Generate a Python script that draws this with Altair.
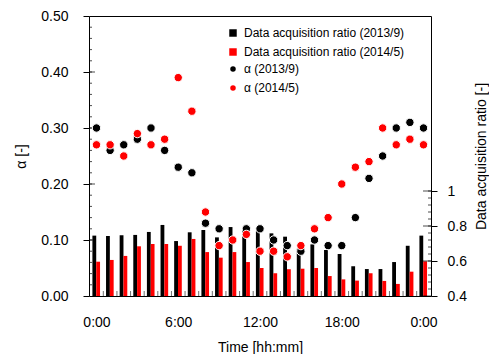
import altair as alt
import pandas as pd

hours = list(range(25))
ratio_2013 = [0.745, 0.743, 0.747, 0.749, 0.766, 0.806, 0.714, 0.764, 0.777, 0.735,
              0.794, 0.780, 0.770, 0.758, 0.739, 0.670, 0.695, 0.663, 0.640, 0.570,
              0.554, 0.554, 0.594, 0.687, 0.745]
ratio_2014 = [0.596, 0.606, 0.629, 0.684, 0.697, 0.697, 0.687, 0.726, 0.651, 0.619,
              0.651, 0.594, 0.560, 0.530, 0.553, 0.556, 0.560, 0.514, 0.495, 0.488,
              0.530, 0.486, 0.469, 0.539, 0.598]
alpha_2013 = [0.30, 0.26, 0.27, 0.28, 0.30, 0.26, 0.23, 0.22, 0.13, 0.12,
              None, 0.12, 0.12, 0.10, 0.09, 0.08, 0.10, 0.09, 0.09, 0.14,
              0.21, 0.25, 0.30, 0.31, 0.30]
alpha_2014 = [0.27, 0.27, 0.25, 0.29, 0.27, 0.28, 0.39, 0.33, 0.15, 0.09,
              0.10, 0.11, 0.08, 0.08, 0.07, 0.09, 0.12, 0.14, 0.20, 0.23,
              0.24, 0.30, 0.27, 0.28, 0.27]

x_ticks = [0, 6, 12, 18, 24]
x_tick_labels = ["0:00", "6:00", "12:00", "18:00", "0:00"]
alpha_ticks = [0.0, 0.1, 0.2, 0.3, 0.4, 0.5]
ratio_ticks = [0.4, 0.6, 0.8, 1.0]
x_minor = [h + 0.5 for h in range(24)]
alpha_minor = [round(0.02 * i, 2) for i in range(1, 25)]
alpha_major_inner = [0.1, 0.2, 0.3, 0.4]
ratio_minor = [round(0.4 + 0.04 * i, 2) for i in range(1, 16)]

S1 = "Data acquisition ratio (2013/9)"
S2 = "Data acquisition ratio (2014/5)"
A1 = "α (2013/9)"
A2 = "α (2014/5)"

W, H = 342, 280
FONT = "Liberation Sans"

bars_df = pd.DataFrame({
    "hour": hours * 2,
    "bseries": [S1] * 25 + [S2] * 25,
    "ratio": ratio_2013 + ratio_2014,
})
pts_df = pd.DataFrame({
    "hour": hours * 2,
    "aseries": [A1] * 25 + [A2] * 25,
    "alpha": alpha_2013 + alpha_2014,
}).dropna()

xscale = alt.Scale(domain=[-0.55, 24.55], nice=False, zero=False)
yl_scale = alt.Scale(domain=[0, 0.5], nice=False, zero=True)
yr_scale = alt.Scale(domain=[0.4, 2.0], nice=False, zero=False)

label_expr = "{" + ",".join(f"'{v}': '{l}'" for v, l in zip(x_ticks, x_tick_labels)) + "}[format(datum.value, 'd')]"


def xaxis():
    return alt.Axis(values=x_ticks, labelExpr=label_expr, title="Time [hh:mm]",
                    ticks=False, labelPadding=19, titlePadding=11, domain=False)


bars = alt.Chart(bars_df).transform_calculate(
    x0=f"datum.hour + (datum.bseries == '{S1}' ? -0.30 : -0.02)"
).transform_calculate(
    x1="datum.x0 + 0.28"
).mark_rect().encode(
    x=alt.X("x0:Q", scale=xscale, axis=xaxis()),
    x2="x1:Q",
    y=alt.Y("ratio:Q", scale=yr_scale,
            axis=alt.Axis(orient="right", values=ratio_ticks, format="~g",
                          title="Data acquisition ratio [-]", titleAngle=270,
                          tickSize=6, labelPadding=10, titlePadding=22,
                          domain=False)),
    y2=alt.datum(0.4),
    color=alt.Color("bseries:N",
                    scale=alt.Scale(domain=[S1, S2], range=["#000000", "#ff0000"]),
                    legend=alt.Legend(title=None, orient="none", legendX=138, legendY=11,
                                      symbolType="square", symbolSize=56, labelLimit=400,
                                      labelFontSize=12, labelOffset=5, rowPadding=7)),
)

ratio_minor_ticks = alt.Chart(pd.DataFrame({"v": ratio_minor})).mark_tick(
    color="black", thickness=1, size=3, orient="horizontal"
).encode(y=alt.Y("v:Q", scale=yr_scale), x=alt.value(W - 1.5))

ratio_major_ticks = alt.Chart(pd.DataFrame({"v": ratio_ticks})).mark_tick(
    color="black", thickness=1, size=8, orient="horizontal"
).encode(y=alt.Y("v:Q", scale=yr_scale), x=alt.value(W - 4))

bar_group = alt.layer(bars, ratio_minor_ticks, ratio_major_ticks)

points = alt.Chart(pts_df).mark_circle(size=70, opacity=1, stroke="white", strokeWidth=1).encode(
    x=alt.X("hour:Q", scale=xscale, axis=xaxis()),
    y=alt.Y("alpha:Q", scale=yl_scale,
            axis=alt.Axis(orient="left", values=alpha_ticks, format=".2f", title="α [-]",
                          tickSize=6, labelPadding=15, titlePadding=12, domain=False)),
    color=alt.Color("aseries:N",
                    scale=alt.Scale(domain=[A1, A2], range=["#000000", "#ff0000"]),
                    legend=alt.Legend(title=None, orient="none", legendX=138, legendY=47,
                                      symbolType="circle", symbolSize=30, labelLimit=400,
                                      symbolStrokeWidth=0,
                                      labelFontSize=12, labelOffset=5, rowPadding=7)),
)

alpha_minor_ticks = alt.Chart(pd.DataFrame({"v": alpha_minor})).mark_tick(
    color="black", thickness=1, size=3, orient="horizontal"
).encode(y=alt.Y("v:Q", scale=yl_scale), x=alt.value(1.5))

alpha_major_ticks = alt.Chart(pd.DataFrame({"v": alpha_major_inner})).mark_tick(
    color="black", thickness=1, size=6, orient="horizontal"
).encode(y=alt.Y("v:Q", scale=yl_scale), x=alt.value(3))

x_minor_ticks = alt.Chart(pd.DataFrame({"v": x_minor})).mark_tick(
    color="#333333", thickness=1, size=5, orient="vertical"
).encode(x=alt.X("v:Q", scale=xscale, axis=xaxis()), y=alt.value(H - 2.5))

point_group = alt.layer(alpha_minor_ticks, alpha_major_ticks, x_minor_ticks, points)

chart = alt.layer(bar_group, point_group).resolve_scale(
    y="independent", color="independent"
).properties(
    width=W, height=H, padding={"left": 6, "top": 1, "right": 0, "bottom": 0}
).configure_view(
    stroke="black", strokeWidth=1
).configure_axis(
    labelFont=FONT, labelFontSize=14, labelColor="black",
    titleFont=FONT, titleFontSize=14, titleFontWeight="normal", titleColor="black",
    tickColor="black", domainColor="black", grid=False
).configure_legend(
    labelFont=FONT, labelColor="black", padding=0
)

chart.save("out.html", embed_options={"renderer": "svg", "actions": False})
